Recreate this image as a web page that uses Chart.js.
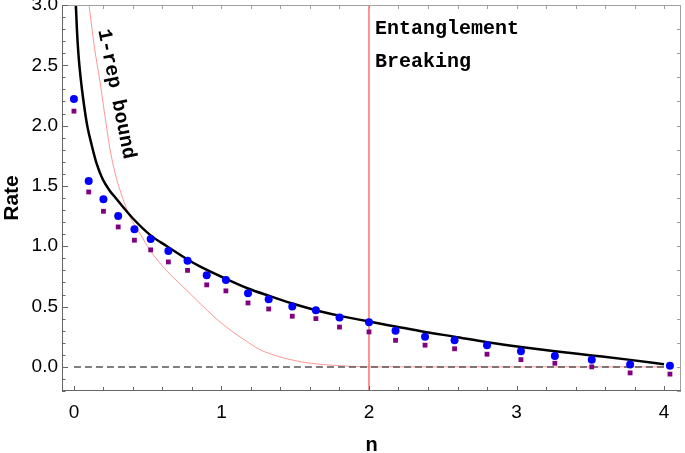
<!DOCTYPE html>
<html lang="en">
<head>
  <meta charset="UTF-8" />
  <title>Rate vs n</title>
  <script src="https://cdn.jsdelivr.net/npm/chart.js"></script>
  <style>
    body { margin: 0; background: #fff; }
  </style>
</head>
<body>

<canvas id="rateChart" width="685" height="453"></canvas>

<script>
  const nVals = [0, 0.10, 0.20, 0.30, 0.41, 0.52, 0.64, 0.77, 0.90, 1.03, 1.18, 1.32, 1.48,
                 1.64, 1.80, 2.00, 2.18, 2.38, 2.58, 2.80, 3.03, 3.26, 3.51, 3.77, 4.04];
  const rateBlue = [2.22, 1.54, 1.39, 1.25, 1.14, 1.06, 0.96, 0.88, 0.76, 0.72, 0.61, 0.56, 0.50,
                    0.47, 0.41, 0.37, 0.30, 0.25, 0.22, 0.18, 0.13, 0.09, 0.06, 0.02, 0.01];
  const ratePurple = [2.12, 1.45, 1.29, 1.16, 1.05, 0.97, 0.87, 0.80, 0.68, 0.63, 0.53, 0.48, 0.42,
                      0.40, 0.33, 0.29, 0.22, 0.18, 0.15, 0.105, 0.06, 0.03, 0.00, -0.05, -0.06];

  // upper bound (thick black curve)
  const boundN = [0.013, 0.02, 0.03, 0.045, 0.065, 0.09, 0.12, 0.155, 0.195, 0.24, 0.29, 0.34,
                  0.40, 0.52, 0.63, 0.77, 0.85, 1.03, 1.18, 1.32, 1.48, 1.64, 1.80, 2.00, 2.18,
                  2.38, 2.58, 2.80, 3.03, 3.26, 3.51, 3.77, 4.00];
  const boundRate = [3.0, 2.8, 2.6, 2.4, 2.2, 2.0, 1.84, 1.68, 1.555, 1.465, 1.39, 1.315,
                     1.23, 1.09, 1.0, 0.89, 0.835, 0.73, 0.65, 0.59, 0.525, 0.47, 0.425, 0.376,
                     0.335, 0.29, 0.25, 0.205, 0.165, 0.13, 0.095, 0.058, 0.022];

  // 1-rep bound (thin red curve)
  const oneRepN = [0.10, 0.14, 0.176, 0.209, 0.243, 0.282, 0.333, 0.378, 0.45, 0.514, 0.626, 0.739,
                   0.851, 0.964, 1.076, 1.16, 1.257, 1.35, 1.45, 1.57, 1.70, 1.80, 1.90, 2.00, 4.00];
  const oneRepRate = [3.02, 2.64, 2.37, 2.09, 1.815, 1.59, 1.39, 1.25, 1.10, 0.97, 0.80, 0.665,
                      0.53, 0.40, 0.29, 0.22, 0.145, 0.10, 0.065, 0.036, 0.018, 0.01, 0.003, 0, 0];

  const breakN = 2;
  const xTickVals = [0, 1, 2, 3, 4];
  const yTickVals = [0, 0.5, 1.0, 1.5, 2.0, 2.5, 3.0];

  const toPts = (xs, ys) => xs.map((x, i) => ({ x: x, y: ys[i] }));

  // frame, inward ticks and text labels
  const framePlugin = {
    id: 'frame',
    afterDraw(chart) {
      const ctx = chart.ctx;
      const xs = chart.scales.x, ys = chart.scales.y;
      const a = chart.chartArea;
      ctx.save();
      ctx.lineWidth = 1;

      // top + right (lighter)
      ctx.strokeStyle = '#a0a0a0';
      ctx.beginPath();
      ctx.moveTo(a.left, a.top + 0.5); ctx.lineTo(a.right, a.top + 0.5);
      ctx.moveTo(a.right - 0.5, a.top); ctx.lineTo(a.right - 0.5, a.bottom);
      for (let k = 0; k <= 20; k++) {
        const px = Math.round(xs.getPixelForValue(k * 0.2)) + 0.5;
        ctx.moveTo(px, a.top); ctx.lineTo(px, a.top + 4);
      }
      for (let k = -1; k <= 15; k++) {
        const py = Math.round(ys.getPixelForValue(k * 0.2)) + 0.5;
        ctx.moveTo(a.right, py); ctx.lineTo(a.right - 4, py);
      }
      ctx.stroke();

      // left + bottom axes
      ctx.strokeStyle = '#666';
      ctx.beginPath();
      ctx.moveTo(a.left + 0.5, a.top); ctx.lineTo(a.left + 0.5, a.bottom);
      ctx.moveTo(a.left, a.bottom - 0.5); ctx.lineTo(a.right, a.bottom - 0.5);
      for (let k = -2; k <= 30; k++) {
        const py = Math.round(ys.getPixelForValue(k * 0.1)) + 0.5;
        const len = (k % 5 === 0) ? 6 : 3.5;
        ctx.moveTo(a.left, py); ctx.lineTo(a.left + len, py);
      }
      for (let k = 0; k <= 20; k++) {
        const px = Math.round(xs.getPixelForValue(k * 0.2)) + 0.5;
        const len = (k % 5 === 0) ? 5 : 4;
        ctx.moveTo(px, a.bottom); ctx.lineTo(px, a.bottom - len);
      }
      ctx.stroke();

      // annotations
      ctx.fillStyle = '#000';
      ctx.font = 'bold 20px "Liberation Mono", "Courier New", monospace';
      ctx.textAlign = 'left';
      ctx.textBaseline = 'alphabetic';
      const bx = xs.getPixelForValue(breakN) + 6;
      ctx.fillText('Entanglement', bx, 34);
      ctx.fillText('Breaking', bx, 67);

      ctx.translate(116, 94);
      ctx.rotate(78.7 * Math.PI / 180);
      ctx.textAlign = 'center';
      ctx.textBaseline = 'middle';
      ctx.fillText('1-rep bound', 0, 0);
      ctx.restore();
    }
  };

  // keep the plot box fixed: no extra room for overhanging tick labels
  const noOverhang = s => {
    s.paddingTop = 0; s.paddingBottom = 0;
    s.paddingLeft = 0; s.paddingRight = 0;
  };

  new Chart(document.getElementById('rateChart'), {
    type: 'scatter',
    data: {
      datasets: [
        {
          data: toPts(nVals, rateBlue),
          backgroundColor: '#0000ff',
          borderColor: '#0000ff',
          pointStyle: 'circle',
          pointRadius: 4,
          borderWidth: 0
        },
        {
          data: toPts(nVals, ratePurple),
          backgroundColor: '#800080',
          borderColor: '#800080',
          pointStyle: 'rect',
          pointRadius: 3.4,
          borderWidth: 0
        },
        {
          data: toPts(boundN, boundRate),
          showLine: true,
          borderColor: '#000',
          borderWidth: 2.5,
          pointRadius: 0,
          cubicInterpolationMode: 'monotone'
        },
        {
          data: [{ x: 0, y: 0 }, { x: 4, y: 0 }],
          showLine: true,
          borderColor: '#555',
          borderWidth: 1.5,
          borderDash: [7, 4],
          pointRadius: 0
        },
        {
          data: toPts(oneRepN, oneRepRate),
          showLine: true,
          borderColor: 'rgba(255, 80, 80, 0.6)',
          borderWidth: 1,
          pointRadius: 0,
          cubicInterpolationMode: 'monotone'
        },
        {
          data: [{ x: breakN, y: -0.2 }, { x: breakN, y: 3.0 }],
          showLine: true,
          borderColor: '#ff5a5a',
          borderWidth: 1.3,
          pointRadius: 0
        }
      ]
    },
    options: {
      responsive: false,
      animation: false,
      layout: { padding: { top: 5, right: 2, left: 0, bottom: 0 } },
      plugins: { legend: { display: false }, tooltip: { enabled: false } },
      scales: {
        x: {
          type: 'linear',
          min: -0.081,
          max: 4.115,
          afterFit: s => { s.height = 62; noOverhang(s); },
          afterBuildTicks: s => { s.ticks = xTickVals.map(v => ({ value: v })); },
          grid: { display: false, drawTicks: false },
          border: { display: false },
          ticks: {
            color: '#000',
            padding: 10,
            font: { family: '"Liberation Sans", Arial, sans-serif', size: 19 }
          },
          title: {
            display: true,
            text: 'n',
            color: '#000',
            padding: { top: 0, bottom: -2 },
            font: { family: '"Liberation Sans", Arial, sans-serif', size: 20, weight: 'bold', lineHeight: 1 }
          }
        },
        y: {
          type: 'linear',
          min: -0.2,
          max: 3.0,
          afterFit: s => { s.width = 62; noOverhang(s); },
          afterBuildTicks: s => { s.ticks = yTickVals.map(v => ({ value: v })); },
          grid: { display: false, drawTicks: false },
          border: { display: false },
          ticks: {
            color: '#000',
            padding: 4,
            callback: v => v.toFixed(1),
            font: { family: '"Liberation Sans", Arial, sans-serif', size: 19 }
          },
          title: {
            display: true,
            text: 'Rate',
            color: '#000',
            padding: { top: 0, bottom: 4 },
            font: { family: '"Liberation Sans", Arial, sans-serif', size: 21, weight: 'bold' }
          }
        }
      }
    },
    plugins: [framePlugin]
  });
</script>

</body>
</html>
